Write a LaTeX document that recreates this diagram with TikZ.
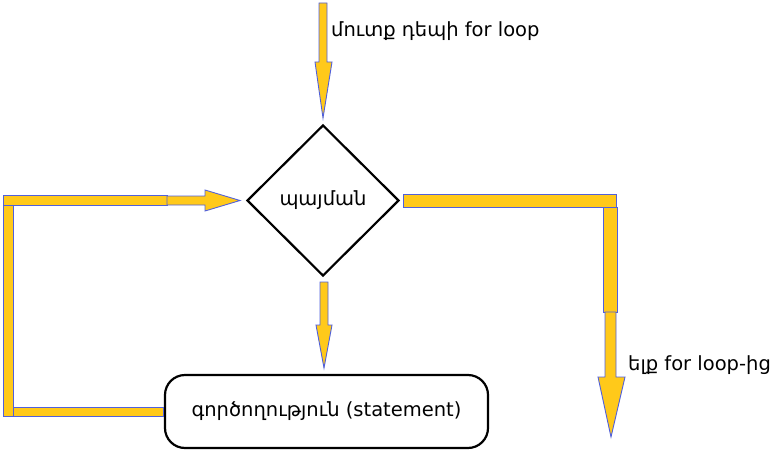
\documentclass[tikz,border=0pt]{standalone}
\usepackage{fontspec}
\setmainfont{DejaVu Sans}
\usetikzlibrary{shapes.geometric}
\definecolor{barfill}{HTML}{FFC91A}
\definecolor{bardraw}{HTML}{5060DC}
\tikzset{
  bar/.style={fill=barfill, draw=bardraw, line width=0.9pt, line join=miter},
  txt/.style={font=\fontsize{19.5}{23}\selectfont},
  lbl/.style={txt, inner sep=0pt, anchor=west},
  cond/.style={txt, diamond, draw=black, line width=2.2pt, minimum width=152pt, minimum height=151pt, inner sep=0pt},
  stmt/.style={txt, rectangle, rounded corners=20pt, draw=black, line width=2.2pt, minimum width=323pt, minimum height=73pt}
}
\begin{document}
\begin{tikzpicture}[x=1pt,y=-1pt]
\useasboundingbox (0,0) rectangle (781,452);
\node[cond] (c) at (323,200.5) {պայման};
\node[stmt] (s) at (326.5,411.5) {գործողություն (statement)};
% top entry arrow
\draw[bar] (319,3) -- (327,3) -- (327,62) -- (332,62) -- (323,118) -- (315,62) -- (319,62) -- cycle;
\node[lbl] (in) at (331,31) {մուտք դեպի for loop};
% down arrow to statement
\draw[bar] (320,282) -- (328,282) -- (328,325) -- (332,325) -- (324,368) -- (316,325) -- (320,325) -- cycle;
% loop back
\draw[bar] (4,407) rectangle (163,416);
\draw[bar] (3,205) rectangle (13,416);
\draw[bar] (3,195) rectangle (167,205);
\draw[bar] (167,196) -- (205,196) -- (205,190) -- (240,200.5) -- (205,211) -- (205,205) -- (167,205) -- cycle;
% exit
\draw[bar] (403,194) rectangle (616,207);
\draw[bar] (603,207) rectangle (617,312);
\draw[bar] (605,312) -- (616,312) -- (616,377) -- (625,377) -- (611,437) -- (598,377) -- (605,377) -- cycle;
\node[lbl] (out) at (628,365) {ելք for loop-ից};
\end{tikzpicture}
\end{document}
